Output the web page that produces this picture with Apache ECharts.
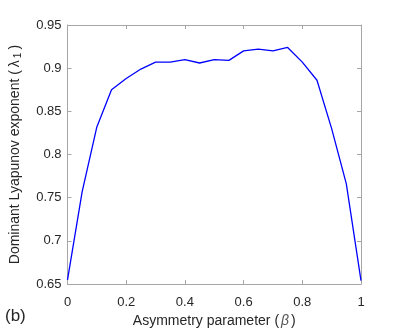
<!DOCTYPE html>
<html>
<head>
<meta charset="utf-8">
<script src="https://cdn.jsdelivr.net/npm/echarts@6/dist/echarts.min.js"></script>
<style>
html,body{margin:0;padding:0;background:#fff;}
#main{width:399px;height:333px;}
</style>
</head>
<body>
<div id="main"></div>
<script>
// asymmetry parameter beta and dominant Lyapunov exponent
var betaVals = [0, 0.05, 0.1, 0.15, 0.2, 0.25, 0.3, 0.35, 0.4, 0.45, 0.5,
                0.55, 0.6, 0.65, 0.7, 0.75, 0.8, 0.85, 0.9, 0.95, 1];
var lyapVals = [0.655, 0.757, 0.832, 0.875, 0.888, 0.899, 0.907, 0.907, 0.910, 0.906, 0.910,
                0.909, 0.920, 0.922, 0.920, 0.924, 0.907, 0.886, 0.830, 0.766, 0.654];

var font = 'Liberation Sans, Arial, sans-serif';
var txt = '#262626';
var axisGray = '#a6a6a6';

var pts = [];
for (var i = 0; i < betaVals.length; i++) pts.push([betaVals[i], lyapVals[i]]);

var myChart = echarts.init(document.getElementById('main'));

function xAx(pos, show){
	return {
		type: 'value', position: pos, min: 0, max: 1, interval: 0.2,
		axisLine: {show: true, onZero: false, lineStyle: {color: axisGray, width: 1}},
		axisTick: {show: true, inside: true, length: 4, lineStyle: {color: axisGray}},
		axisLabel: {show: show, color: txt, fontFamily: font, fontSize: 13, margin: 12,
			formatter: function(v){ return String(+v.toFixed(1)); }},
		splitLine: {show: false}
	};
}
function yAx(pos, show){
	return {
		type: 'value', position: pos, min: 0.65, max: 0.95, interval: 0.05,
		axisLine: {show: true, onZero: false, lineStyle: {color: axisGray, width: 1}},
		axisTick: {show: true, inside: true, length: 4, lineStyle: {color: axisGray}},
		axisLabel: {show: show, color: txt, fontFamily: font, fontSize: 13, margin: 6,
			formatter: function(v){ return String(+v.toFixed(2)); }},
		splitLine: {show: false}
	};
}

var xBottom = xAx('bottom', true);
xBottom.name = 'Asymmetry parameter ({it|β})';
xBottom.nameLocation = 'middle';
xBottom.nameGap = 25;
xBottom.nameTextStyle = {color: txt, fontFamily: font, fontSize: 14,
	rich: {it: {fontStyle: 'italic', fontFamily: font, fontSize: 14, color: '#555', padding: [0, 2, 0, 2]}}};

var yLeft = yAx('left', true);
yLeft.name = 'Dominant Lyapunov exponent ({l|λ}{s|1})';
yLeft.nameLocation = 'middle';
yLeft.nameGap = 44;
yLeft.nameTextStyle = {color: txt, fontFamily: font, fontSize: 14,
	rich: {
		l: {fontFamily: font, fontSize: 14, color: txt, padding: [0, 2, 0, 3]},
		s: {fontFamily: font, fontSize: 10, color: txt, padding: [7, 3, 0, 0]}
	}};

var option = {
	backgroundColor: '#fff',
	animation: false,
	grid: {left: 63, right: 38, top: 25, bottom: 46, containLabel: false},
	xAxis: [xBottom, xAx('top', false)],
	yAxis: [yLeft, yAx('right', false)],
	graphic: [{
		type: 'text', left: 5, top: 308,
		style: {text: '(b)', fill: txt, font: '17px ' + font}
	}],
	series: [{
		type: 'line', xAxisIndex: 0, yAxisIndex: 0,
		data: pts, showSymbol: false, symbol: 'none',
		lineStyle: {color: '#0000ff', width: 1.3}
	}]
};
myChart.setOption(option);
</script>
</body>
</html>
